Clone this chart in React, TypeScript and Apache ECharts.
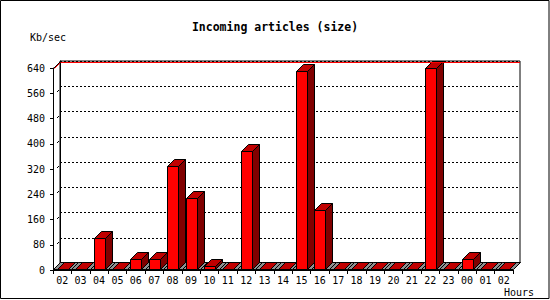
import React, { useEffect, useRef } from "react";
import * as echarts from "echarts";

const hours = ["02","03","04","05","06","07","08","09","10","11","12","13","14","15","16","17","18","19","20","21","22","23","00","01","02"];
const sizeKbSec = [0,0,100,0,34,34,329,227,13,0,377,0,0,630,189,0,0,0,0,0,639,0,35,0,0];
const yMin = 0;
const yMax = 640;
const yStep = 80;
const titleText = "Incoming articles (size)";
const yUnit = "Kb/sec";
const xUnit = "Hours";

const D = 7;
const BAR_W = 11;
const FONT = "'DejaVu Sans Mono', monospace";

export default function App() {
  const ref = useRef<HTMLDivElement>(null);
  useEffect(() => {
    document.body.style.margin = "0";
    const chart = echarts.init(ref.current!, null, { renderer: "svg" });
    const r = (v: number) => Math.round(v) + 0.5;

    const floorItem = (params: any, api: any) => {
      const i = api.value(0);
      const [cx, base] = api.coord([i, 0]);
      const bw = api.size([1, 0])[0];
      const xl = r(cx - bw / 2);
      const xr = r(cx + bw / 2);
      const b = r(base) - 1;
      return {
        type: "polygon",
        shape: { points: [[xl, b], [xr, b], [xr + D, b - D], [xl + D, b - D]] },
        style: { fill: "#909090", stroke: "#000", lineWidth: 1 },
      };
    };

    const barItem = (params: any, api: any) => {
      const i = api.value(0);
      const v = api.value(1);
      const [cx, yt0] = api.coord([i, v]);
      const [, base0] = api.coord([i, 0]);
      const x0 = r(cx - BAR_W / 2);
      const x1 = x0 + BAR_W;
      const b = r(base0) - 1;
      const yt = Math.min(r(yt0), b);
      return {
        type: "group",
        children: [
          {
            type: "polygon",
            shape: { points: [[x1, yt], [x1 + D, yt - D], [x1 + D, b - D], [x1, b]] },
            style: { fill: "#800000", stroke: "#000", lineWidth: 1 },
          },
          {
            type: "polygon",
            shape: { points: [[x0, yt], [x1, yt], [x1 + D, yt - D], [x0 + D, yt - D]] },
            style: { fill: "#c00000", stroke: "#000", lineWidth: 1 },
          },
          {
            type: "rect",
            shape: { x: x0, y: yt, width: BAR_W, height: b - yt },
            style: { fill: "#ff0000", stroke: "#000", lineWidth: 1 },
          },
        ],
      };
    };

    const data = sizeKbSec.map((v, i) => [i, v]);

    chart.setOption({
      animation: false,
      backgroundColor: "#fff",
      title: {
        text: titleText,
        left: "center",
        top: 21,
        padding: 0,
        textStyle: { fontFamily: FONT, fontWeight: "bold", fontSize: 11.5, color: "#000", lineHeight: 12 },
      },
      grid: [
        { left: 53, right: 37, top: 68, bottom: 30, containLabel: false, outerBoundsMode: "none" },
        { left: 60, right: 30, top: 61, bottom: 37, show: true, borderColor: "#000", borderWidth: 1, backgroundColor: "#fff", containLabel: false, outerBoundsMode: "none" },
      ],
      xAxis: [
        {
          gridIndex: 0,
          type: "category",
          data: hours,
          boundaryGap: true,
          axisLine: { show: true, lineStyle: { color: "#000", width: 1 } },
          axisTick: { show: true, interval: 0, length: 4, lineStyle: { color: "#000" } },
          axisLabel: { interval: 0, margin: 5, fontSize: 10, fontFamily: FONT, color: "#000" },
          splitLine: { show: false },
          z: 5,
        },
        { gridIndex: 1, type: "category", data: hours, show: false },
      ],
      yAxis: [
        {
          gridIndex: 0,
          type: "value",
          min: yMin,
          max: yMax,
          interval: yStep,
          axisLine: { show: true, lineStyle: { color: "#000", width: 1 } },
          axisTick: { show: true, length: 3, lineStyle: { color: "#000" } },
          axisLabel: { margin: 8, fontSize: 10, fontFamily: FONT, color: "#000" },
          splitLine: { show: false },
        },
        {
          gridIndex: 1,
          type: "value",
          min: yMin,
          max: yMax,
          interval: yStep,
          axisLine: { show: true, lineStyle: { color: "#000", width: 1 } },
          axisTick: { show: false },
          axisLabel: { show: false },
          splitLine: { show: true, lineStyle: { color: "#000", width: 1, type: [2, 2] } },
        },
      ],
      series: [
        {
          type: "custom",
          name: "floor",
          xAxisIndex: 0,
          yAxisIndex: 0,
          renderItem: floorItem,
          data: data,
          z: 2,
          silent: true,
        },
        {
          type: "custom",
          name: "Incoming articles",
          xAxisIndex: 0,
          yAxisIndex: 0,
          renderItem: barItem,
          data: data,
          z: 3,
          clip: false,
        },
      ],
    });

    const py = (v: number) => chart.convertToPixel({ yAxisIndex: 0 } as any, v) as number;
    const topY = r(py(yMax));
    const marks: any[] = [];
    for (let v = yMin + yStep; v < yMax; v += yStep) {
      const y = Math.round(py(v));
      marks.push({
        type: "line",
        shape: { x1: 57, y1: y - 1, x2: 59, y2: y - 3 },
        style: { stroke: "#000", lineWidth: 1 },
      });
    }

    chart.setOption({
      graphic: [
        {
          type: "rect",
          shape: { x: 0.5, y: 0.5, width: 548.5, height: 298 },
          style: { fill: "none", stroke: "#000", lineWidth: 1 },
          silent: true,
        },
        {
          type: "line",
          shape: { x1: 61, y1: topY - 7 + 1, x2: 520, y2: topY - 7 + 1 },
          style: { stroke: "#ff0000", lineWidth: 1 },
          z: 10,
        },
        {
          type: "line",
          shape: { x1: 53.5, y1: topY, x2: 60.5, y2: topY - 7 },
          style: { stroke: "#000", lineWidth: 1 },
          z: 10,
        },
        {
          type: "line",
          shape: { x1: 54.5, y1: topY, x2: 60.5, y2: topY - 6 },
          style: { stroke: "#ff0000", lineWidth: 1 },
          z: 10,
        },
        ...marks,
        {
          type: "text",
          x: 30,
          y: 37.5,
          style: { text: yUnit, fontFamily: FONT, fontSize: 10, fill: "#000", textVerticalAlign: "middle" },
        },
        {
          type: "text",
          x: 504,
          y: 292,
          style: { text: xUnit, fontFamily: FONT, fontSize: 10, fill: "#000", textVerticalAlign: "middle" },
        },
      ],
    });

    return () => chart.dispose();
  }, []);
  return <div ref={ref} style={{ width: 550, height: 300 }} />;
}
